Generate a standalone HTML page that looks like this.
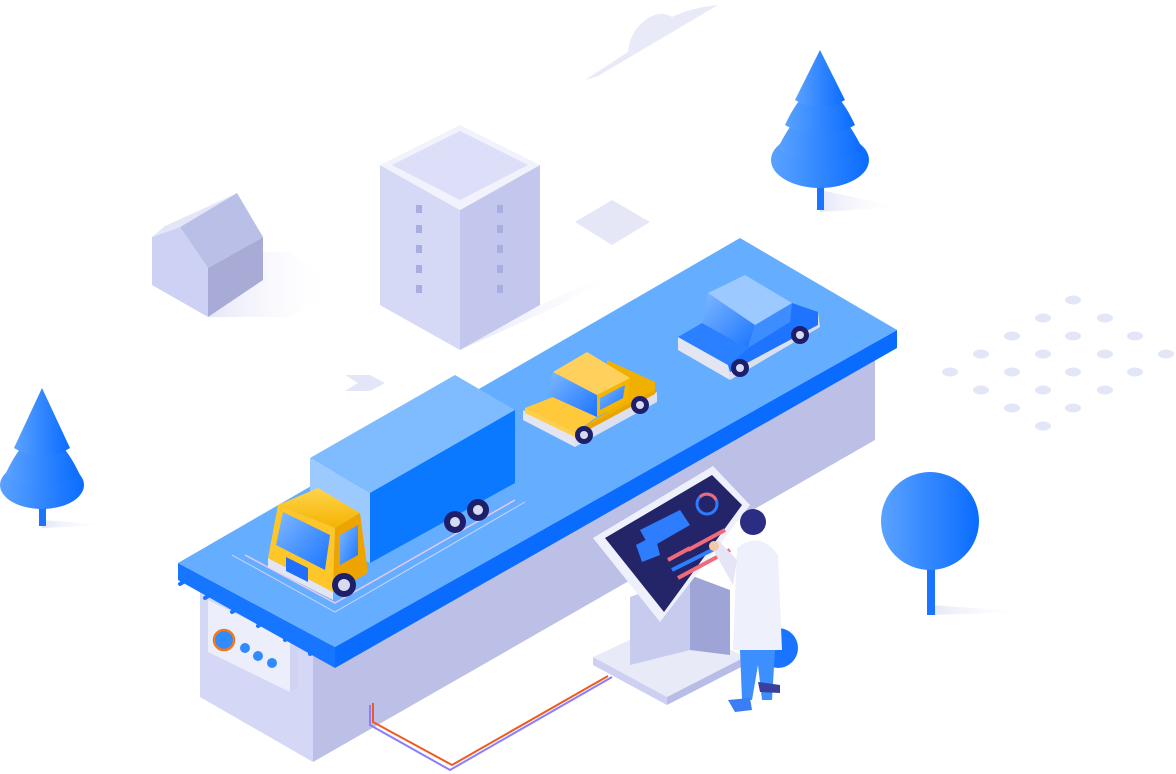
<!DOCTYPE html>
<html><head><meta charset="utf-8"><style>html,body{margin:0;padding:0;background:#fff}svg{display:block}</style></head><body>
<svg width="1176" height="774" viewBox="0 0 1176 774" xmlns="http://www.w3.org/2000/svg">
<defs>
<linearGradient id="tg" x1="0" y1="0" x2="1" y2="0"><stop offset="0" stop-color="#5aa2ff"/><stop offset="1" stop-color="#0a6cff"/></linearGradient>
<linearGradient id="sh" x1="0" y1="0" x2="1" y2="0"><stop offset="0" stop-color="#e4e6f8"/><stop offset="1" stop-color="#fff" stop-opacity="0"/></linearGradient>
<linearGradient id="yl" x1="0" y1="0" x2="0" y2="1"><stop offset="0" stop-color="#ffd44d"/><stop offset="1" stop-color="#f4b400"/></linearGradient>
<linearGradient id="wb" x1="0" y1="0" x2="1" y2="1"><stop offset="0" stop-color="#7fb8ff"/><stop offset="1" stop-color="#1a74ff"/></linearGradient>
</defs>
<!-- cloud -->
<path d="M585,80 L628,52 Q630,30 648,18 Q662,10 672,17 Q690,8 718,5 L598,76 Z" fill="#e8eaf8"/>
<!-- dots -->
<g fill="#e3e6f6">
<ellipse cx="1073" cy="300" rx="8" ry="4.5"/>
<ellipse cx="1043" cy="318" rx="8" ry="4.5"/><ellipse cx="1105" cy="318" rx="8" ry="4.5"/>
<ellipse cx="1012" cy="336" rx="8" ry="4.5"/><ellipse cx="1073" cy="336" rx="8" ry="4.5"/><ellipse cx="1135" cy="336" rx="8" ry="4.5"/>
<ellipse cx="981" cy="354" rx="8" ry="4.5"/><ellipse cx="1043" cy="354" rx="8" ry="4.5"/><ellipse cx="1105" cy="354" rx="8" ry="4.5"/><ellipse cx="1166" cy="354" rx="8" ry="4.5"/>
<ellipse cx="950" cy="372" rx="8" ry="4.5"/><ellipse cx="1012" cy="372" rx="8" ry="4.5"/><ellipse cx="1073" cy="372" rx="8" ry="4.5"/><ellipse cx="1135" cy="372" rx="8" ry="4.5"/>
<ellipse cx="981" cy="390" rx="8" ry="4.5"/><ellipse cx="1043" cy="390" rx="8" ry="4.5"/><ellipse cx="1105" cy="390" rx="8" ry="4.5"/>
<ellipse cx="1012" cy="408" rx="8" ry="4.5"/><ellipse cx="1073" cy="408" rx="8" ry="4.5"/>
<ellipse cx="1043" cy="426" rx="8" ry="4.5"/>
</g>
<!-- top right tree -->
<polygon points="820,190 900,207 820,212" fill="url(#sh)"/>
<rect x="817" y="170" width="7" height="40" fill="#1a74ff"/>
<ellipse cx="820" cy="160" rx="49" ry="28" fill="url(#tg)"/>
<path d="M777,150 Q820,60 863,150 Q820,175 777,150Z" fill="url(#tg)"/>
<path d="M785,125 Q820,50 855,125 Q820,145 785,125Z" fill="url(#tg)"/>
<path d="M795,100 L820,50 L845,100 Q820,115 795,100Z" fill="url(#tg)"/>
<!-- left tree -->
<polygon points="42,520 110,525 42,528" fill="url(#sh)"/>
<rect x="39" y="490" width="7" height="36" fill="#1a74ff"/>
<ellipse cx="42" cy="485" rx="42" ry="24" fill="url(#tg)"/>
<path d="M5,475 Q42,395 80,475 Q42,500 5,475Z" fill="url(#tg)"/>
<path d="M14,448 L42,388 L70,448 Q42,465 14,448Z" fill="url(#tg)"/>
<!-- round tree -->
<polygon points="930,605 1030,612 930,615" fill="url(#sh)"/>
<rect x="927" y="535" width="8" height="80" fill="#1a74ff"/>
<circle cx="930" cy="521" r="49" fill="url(#tg)"/>
<!-- house -->
<polygon points="208,317 263,252 290,252 335,290 290,317" fill="url(#sh)"/>
<polygon points="152,237 180,227 208,268 208,317 152,285" fill="#cdd2f5"/>
<polygon points="208,268 263,237 263,280 208,317" fill="#a7abd6"/>
<polygon points="180,227 237,193 263,237 208,268" fill="#babfe8"/>
<polygon points="152,237 180,227 237,193 207,207 165,226" fill="#e4e6f8"/>
<!-- small diamond -->
<polygon points="575,222 612,200 650,222 612,245" fill="#e5e7f7"/>
<!-- building -->
<polygon points="460,350 540,305 640,260 560,305" fill="url(#sh)"/>
<polygon points="380,165 460,210 460,350 380,305" fill="#d6d9f5"/>
<polygon points="460,210 540,165 540,305 460,350" fill="#c3c7ee"/>
<polygon points="380,165 460,125 540,165 460,210" fill="#f1f2fc"/>
<polygon points="392,165 460,131 528,165 460,200" fill="#dcdff7"/>
<g fill="#a9aee0">
<rect x="416" y="205" width="6" height="8"/><rect x="416" y="225" width="6" height="8"/><rect x="416" y="245" width="6" height="8"/><rect x="416" y="265" width="6" height="8"/><rect x="416" y="285" width="6" height="8"/>
<rect x="497" y="205" width="6" height="8"/><rect x="497" y="225" width="6" height="8"/><rect x="497" y="245" width="6" height="8"/><rect x="497" y="265" width="6" height="8"/><rect x="497" y="285" width="6" height="8"/>
</g>
<!-- arrow -->
<polygon points="345,375 370,375 385,383 370,391 345,391 358,383" fill="#e4e6f8"/>
<!-- body under road -->
<polygon points="200,590 313,655 313,762 200,697" fill="#d4d7f6"/>
<polygon points="313,655 875,335 875,440 313,762" fill="#bcc0e6"/>
<!-- connector box -->
<polygon points="208,600 290,640 290,692 208,652" fill="#eceefb"/>
<polygon points="290,640 298,636 298,688 290,692" fill="#d0d3f2"/>
<circle cx="224" cy="640" r="10" fill="#2f8bff" stroke="#f07a1a" stroke-width="2.5"/>
<circle cx="245" cy="648" r="5" fill="#2f8bff"/><circle cx="258" cy="656" r="5" fill="#2f8bff"/><circle cx="272" cy="663" r="5" fill="#2f8bff"/>
<!-- cables -->
<path d="M370,705 L370,725 L450,770 L612,677" fill="none" stroke="#8b7dff" stroke-width="2"/>
<path d="M373,703 L373,722 L452,765 L608,676" fill="none" stroke="#f05a1e" stroke-width="2"/>
<!-- road -->
<polygon points="178,563 335,647 335,668 178,580" fill="#1776ff"/>
<polygon points="335,647 897,330 897,348 335,668" fill="#0a6cff"/>
<polygon points="178,563 740,238 897,330 335,647" fill="#64adff"/>
<g stroke="#1776ff" stroke-width="4" stroke-linecap="round">
<line x1="180" y1="584" x2="190" y2="578"/><line x1="205" y1="598" x2="215" y2="592"/><line x1="232" y1="612" x2="242" y2="606"/><line x1="258" y1="626" x2="268" y2="620"/><line x1="285" y1="640" x2="295" y2="634"/><line x1="310" y1="654" x2="320" y2="648"/>
</g>
<!-- truck sensor rings -->
<path d="M245,555 L335,603 L515,500" fill="none" stroke="#e9c9f0" stroke-width="1.5"/>
<path d="M232,555 L335,612 L525,502" fill="none" stroke="#c9d4ff" stroke-width="1"/>
<!-- truck -->
<polygon points="310,458 455,375 515,410 370,493" fill="#7fbcff"/>
<polygon points="310,458 370,493 370,563 310,530" fill="#9ccaff"/>
<polygon points="370,493 515,410 515,483 370,563" fill="#0a78ff"/>
<circle cx="455" cy="522" r="11" fill="#1e1f6b"/><circle cx="455" cy="522" r="5" fill="#d8dbf0"/>
<circle cx="478" cy="510" r="11" fill="#1e1f6b"/><circle cx="478" cy="510" r="5" fill="#d8dbf0"/>
<polygon points="268,558 333,592 333,600 268,567" fill="#e3e5f3"/>
<polygon points="278,505 318,488 360,513 335,528" fill="url(#yl)"/>
<polygon points="278,505 335,528 333,592 268,558" fill="#ffc629"/>
<polygon points="335,528 360,513 368,573 333,592" fill="#eda300"/>
<polygon points="283,512 330,535 325,570 276,545" fill="url(#wb)"/>
<polygon points="340,535 358,525 358,555 340,565" fill="url(#wb)"/>
<polygon points="286,557 308,568 308,582 286,571" fill="#1f6fff"/>
<circle cx="344" cy="585" r="12" fill="#1e1f6b"/><circle cx="344" cy="585" r="6" fill="#d8dbf0"/>
<!-- taxi -->
<polygon points="523,410 575,435 575,447 523,420" fill="#e3e5f3"/>
<polygon points="575,435 657,392 657,402 575,447" fill="#dcdff0"/>
<polygon points="575,432 607,412 607,360 655,382 655,392 575,437" fill="#f1b000"/>
<polygon points="575,432 655,390 655,394 575,437" fill="#e9a400"/>
<polygon points="525,408 553,397 597,417 575,432" fill="#ffc93a"/>
<polygon points="548,395 553,372 597,395 597,417" fill="url(#wb)"/>
<polygon points="597,395 630,378 628,400 597,417" fill="#f5b500"/>
<polygon points="600,398 625,385 623,398 600,410" fill="url(#wb)"/>
<polygon points="553,372 587,352 630,378 597,395" fill="#ffd15c"/>
<polygon points="525,408 575,432 575,437 525,413" fill="#ffcf4a"/>
<circle cx="584" cy="435" r="9" fill="#1e1f6b"/><circle cx="584" cy="435" r="4" fill="#d8dbf0"/>
<circle cx="640" cy="405" r="9" fill="#1e1f6b"/><circle cx="640" cy="405" r="4" fill="#d8dbf0"/>
<!-- blue car -->
<polygon points="678,337 728,365 730,380 678,350" fill="#e3e5f3"/>
<polygon points="728,365 818,312 820,327 730,380" fill="#dcdff0"/>
<polygon points="728,365 748,348 792,303 818,312 818,325 730,372" fill="#1f74ff"/>
<polygon points="678,337 702,323 748,348 728,365" fill="#2b80ff"/>
<polygon points="702,323 708,293 755,325 748,348" fill="url(#wb)"/>
<polygon points="755,325 792,303 790,322 748,348" fill="#3d8dff"/>
<polygon points="708,293 745,275 792,303 755,325" fill="#9cc9ff"/>
<circle cx="740" cy="368" r="9" fill="#1e1f6b"/><circle cx="740" cy="368" r="4" fill="#d8dbf0"/>
<circle cx="800" cy="335" r="9" fill="#1e1f6b"/><circle cx="800" cy="335" r="4" fill="#d8dbf0"/>
<!-- kiosk -->
<polygon points="593,657 673,620 745,657 667,697" fill="#e8eaf8"/>
<polygon points="593,657 667,697 667,705 593,665" fill="#cdd0f0"/>
<polygon points="667,697 745,657 745,665 667,705" fill="#b8bce6"/>
<polygon points="630,597 690,575 690,650 630,665" fill="#c7cbee"/>
<polygon points="690,575 730,590 730,655 690,650" fill="#9fa4d6"/>
<polygon points="593,538 713,466 750,505 660,622" fill="#eef0fb"/>
<polygon points="605,538 712,475 742,505 664,612" fill="#242569"/>
<polygon points="640,530 680,510 690,525 650,548" fill="#2f7dff"/>
<polygon points="636,545 655,535 660,555 642,562" fill="#2f7dff"/>
<circle cx="707" cy="504" r="10" fill="none" stroke="#2f7dff" stroke-width="3"/>
<path d="M700,497 A10,10 0 0,1 716,500" fill="none" stroke="#f06a7a" stroke-width="3"/>
<g stroke-width="4"><line x1="688" y1="550" x2="725" y2="530" stroke="#f06a7a"/><line x1="668" y1="560" x2="690" y2="548" stroke="#f06a7a"/><line x1="672" y1="570" x2="722" y2="545" stroke="#2f7dff"/><line x1="678" y1="578" x2="730" y2="550" stroke="#f06a7a"/></g>
<!-- person -->
<circle cx="778" cy="648" r="20" fill="#1a74ff"/>
<polygon points="740,650 775,650 772,700 762,700 758,665 752,700 742,700" fill="#3d8fff"/>
<polygon points="728,700 750,698 752,710 735,712" fill="#3a7df5"/>
<polygon points="758,682 780,685 780,693 760,692" fill="#3a3f9e"/>
<path d="M737,548 Q760,530 778,555 L782,650 L733,650 Z" fill="#eef0fb"/>
<path d="M737,560 L718,540 L712,548 L733,585 Z" fill="#e4e6f8"/>
<circle cx="714" cy="546" r="5" fill="#f5c9a8"/>
<circle cx="753" cy="522" r="13" fill="#2b2d83"/>
</svg>
</body></html>
